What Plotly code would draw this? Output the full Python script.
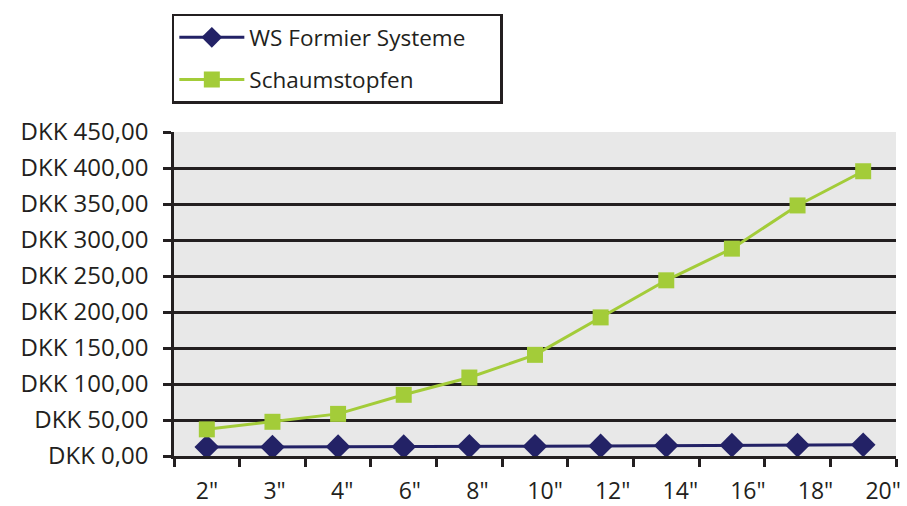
import plotly.graph_objects as go

categories = ['2"', '3"', '4"', '6"', '8"', '10"', '12"', '14"', '16"', '18"', '20"']
series_names = ["WS Formier Systeme", "Schaumstopfen"]
ws_formier = [12.5, 12.5, 13, 13, 13.5, 13.5, 14, 14.5, 15, 15, 15.5]
schaumstopfen = [37, 47.5, 58.5, 85, 109, 140.5, 192.5, 244, 288, 348, 395.5]
y_tick_values = [0, 50, 100, 150, 200, 250, 300, 350, 400, 450]
y_tick_labels = ["DKK 0,00", "DKK 50,00", "DKK 100,00", "DKK 150,00", "DKK 200,00",
                 "DKK 250,00", "DKK 300,00", "DKK 350,00", "DKK 400,00", "DKK 450,00"]

FONT = "Open Sans"
TXT = "#231f20"
PAD = "\u00a0" * 5  # widens the legend box to match the reference

fig = go.Figure()
fig.add_trace(go.Scatter(
    x=categories, y=ws_formier, name=series_names[0] + PAD, mode="lines+markers",
    legendgroup="a",
    line=dict(color="#232266", width=3),
    marker=dict(symbol="diamond", size=19, color="#232266"),
))
fig.add_trace(go.Scatter(
    x=categories, y=schaumstopfen, name=series_names[1], mode="lines+markers",
    legendgroup="b",
    line=dict(color="#a3cc39", width=3),
    marker=dict(symbol="square", size=16, color="#a3cc39"),
))
# invisible helper trace so the label axis (x2) is rendered
fig.add_trace(go.Scatter(
    x=list(range(len(categories))), y=schaumstopfen, xaxis="x2", yaxis="y",
    mode="markers", marker=dict(opacity=0), showlegend=False, hoverinfo="skip",
))

fig.update_layout(
    width=907, height=506,
    margin=dict(l=174, r=11, t=132, b=50, autoexpand=False),
    paper_bgcolor="white", plot_bgcolor="#e8e8e8",
    font=dict(family=FONT, size=23, color=TXT),
    showlegend=True,
    legend=dict(
        x=-0.003, xref="paper", y=0.973, yref="container", xanchor="left", yanchor="top",
        bgcolor="white", bordercolor="#231f20", borderwidth=2.5,
        font=dict(family=FONT, size=22.5, color=TXT),
        tracegroupgap=10, itemwidth=65,
    ),
    xaxis=dict(
        type="category", categoryorder="array", categoryarray=categories,
        range=[-0.5, len(categories) - 0.5], automargin=False,
        showgrid=False, zeroline=False,
        showline=True, linecolor="#231f20", linewidth=2.5,
        ticks="outside", ticklen=8, tickwidth=2.5, tickcolor="#231f20",
        tickson="boundaries", showticklabels=False,
    ),
    xaxis2=dict(
        overlaying="x", anchor="y", side="bottom",
        range=[-0.488, 10.19], automargin=False,
        tickmode="array", tickvals=list(range(len(categories))), ticktext=categories,
        showgrid=False, zeroline=False, showline=False, ticks="",
        ticklabelstandoff=19, ticklabeloverflow="allow",
        tickfont=dict(family=FONT, size=23, color=TXT),
    ),
    yaxis=dict(
        range=[0, 450], automargin=False,
        tickmode="array", tickvals=y_tick_values, ticktext=y_tick_labels,
        showgrid=True, gridcolor="#231f20", gridwidth=2.5,
        zeroline=False,
        showline=True, linecolor="#231f20", linewidth=2.5,
        ticks="outside", ticklen=8, tickwidth=2.5, tickcolor="#231f20",
        ticklabelstandoff=10,
        tickfont=dict(family=FONT, size=24, color=TXT),
    ),
)

fig.write_html("out.html", config={"displayModeBar": False},
               post_script="document.body.style.margin='0';document.body.style.padding='0';")
